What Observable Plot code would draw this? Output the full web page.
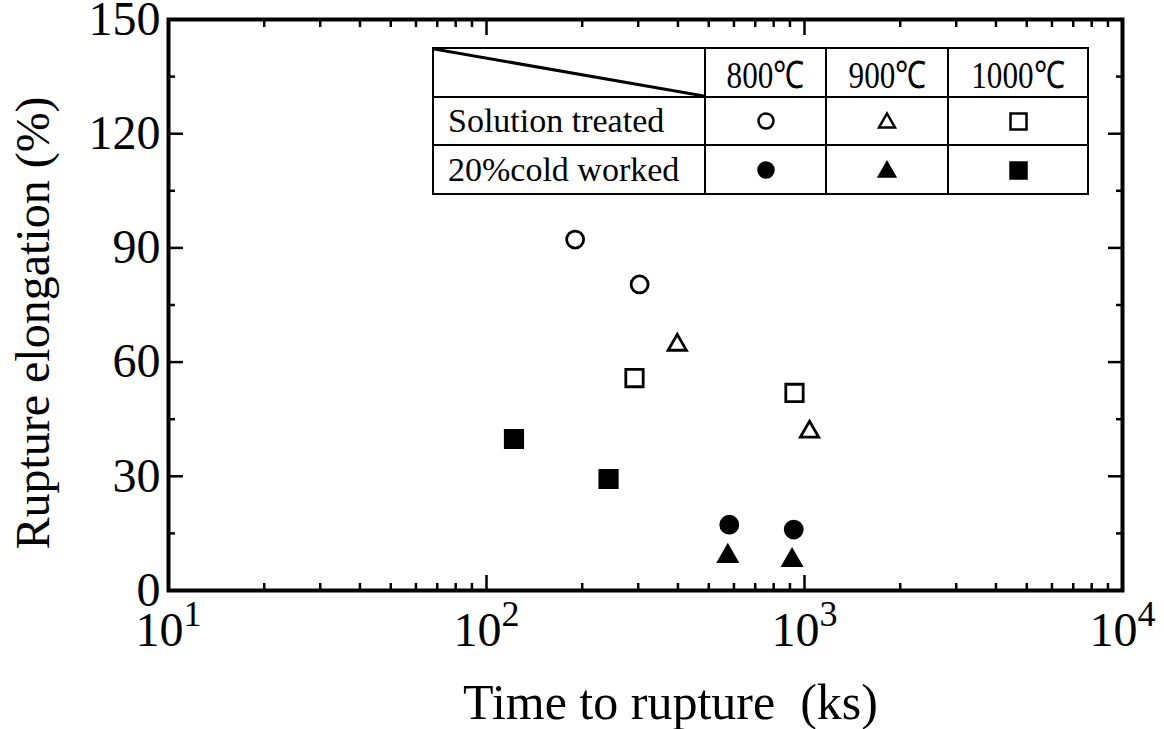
<!DOCTYPE html>
<html>
<head>
<meta charset="utf-8">
<script src="https://cdn.jsdelivr.net/npm/d3@7"></script>
<script src="https://cdn.jsdelivr.net/npm/@observablehq/plot@0.6"></script>
<style>
  body { margin: 0; background: #fff; }
  #wrap { position: relative; width: 1164px; height: 729px; font-family: "Liberation Serif", "Times New Roman", serif; color: #000; }
  #wrap svg text { white-space: pre; }
  #legend { position: absolute; left: 432px; top: 47px; border-collapse: collapse; background: #fff; table-layout: fixed; width: 657px; }
  #legend td { border: 2px solid #000; padding: 0; text-align: center; vertical-align: middle; line-height: 1; }
  #legend td.lab { text-align: left; padding-left: 14px; font-size: 34px; white-space: nowrap; }
  #legend td.hdr { font-size: 38px; white-space: nowrap; vertical-align: bottom; padding-bottom: 2px; }
  #legend td.hdr span { display: inline-block; transform: scaleX(0.82); }
  #legend td.diag { position: relative; }
  #legend td.diag svg { position: absolute; left: 0; top: 0; width: 100%; height: 100%; }
</style>
</head>
<body>
<div id="wrap"></div>
<script>
// ---------- data ----------
const temperatures = ["800℃", "900℃", "1000℃"];
const conditions = ["Solution treated", "20%cold worked"];

// Solution treated (open symbols)
const timeST800 = [190, 303];   const elongST800 = [92.2, 80.4];
const timeST900 = [398, 1037];  const elongST900 = [64.5, 41.7];
const timeST1000 = [292, 930];  const elongST1000 = [55.8, 51.9];
// 20% cold worked (filled symbols)
const timeCW800 = [580, 925];   const elongCW800 = [17.3, 16.0];
const timeCW900 = [574, 914];   const elongCW900 = [9.0, 7.9];
const timeCW1000 = [122, 242];  const elongCW1000 = [39.8, 29.3];

// axis ticks
const yTicks = [0, 30, 60, 90, 120, 150];
const yMinor = [15, 45, 75, 105, 135];
const xTicks = [10, 100, 1000, 10000];
const xMinor = [20, 30, 40, 50, 60, 70, 80, 90, 200, 300, 400, 500, 600, 700, 800, 900, 2000, 3000, 4000, 5000, 6000, 7000, 8000, 9000];

const rows = (t, e) => t.map((v, i) => ({t: v, e: e[i]}));

const symbolSpec = [
  {data: rows(timeST800, elongST800), symbol: "circle", r: 8.5, filled: false},
  {data: rows(timeST900, elongST900), symbol: "triangle", r: 6.8, filled: false},
  {data: rows(timeST1000, elongST1000), symbol: "square", r: 9.8, filled: false},
  {data: rows(timeCW800, elongCW800), symbol: "circle", r: 8.5, filled: true},
  {data: rows(timeCW900, elongCW900), symbol: "triangle", r: 6.8, filled: true},
  {data: rows(timeCW1000, elongCW1000), symbol: "square", r: 9.8, filled: true}
];

const dotMarks = symbolSpec.map(s => Plot.dot(s.data, {
  x: "t", y: "e", symbol: s.symbol, r: s.r,
  stroke: "black", strokeWidth: 2.8, fill: s.filled ? "black" : "none", strokeLinejoin: "miter"
}));

const tickOpts = {fill: "none", tickFormat: () => "", label: null, strokeWidth: 2.5};

const chart = Plot.plot({
  width: 1164,
  height: 729,
  marginLeft: 168,
  marginRight: 42,
  marginTop: 19,
  marginBottom: 139,
  style: {fontFamily: "'Liberation Serif', 'Times New Roman', serif", background: "white", color: "black"},
  x: {type: "log", domain: [10, 10000]},
  y: {domain: [0, 150]},
  marks: [
    // inward ticks on all four sides
    Plot.axisY(yTicks, {anchor: "left", tickSize: -15, ...tickOpts}),
    Plot.axisY(yMinor, {anchor: "left", tickSize: -7, ...tickOpts}),
    Plot.axisY(yTicks, {anchor: "right", tickSize: -15, ...tickOpts}),
    Plot.axisY(yMinor, {anchor: "right", tickSize: -7, ...tickOpts}),
    Plot.axisX(xTicks, {anchor: "bottom", tickSize: -15, ...tickOpts}),
    Plot.axisX(xMinor, {anchor: "bottom", tickSize: -7, ...tickOpts}),
    Plot.axisX(xTicks, {anchor: "top", tickSize: -15, ...tickOpts}),
    Plot.axisX(xMinor, {anchor: "top", tickSize: -7, ...tickOpts}),
    // tick labels
    Plot.axisY(yTicks, {anchor: "left", tickSize: 0, tickPadding: 8, fontSize: 48, label: null}),
    Plot.axisX(xTicks, {anchor: "bottom", tickSize: 0, tickPadding: 21, fontSize: 48, label: null,
      tickFormat: d => "10^" + Math.round(Math.log10(d))}),
    // titles
    Plot.text(["Rupture elongation (%)"], {frameAnchor: "left", textAnchor: "middle", lineAnchor: "middle", rotate: -90, dx: -135, dy: 18, fontSize: 48}),
    Plot.text(["Time to rupture  (ks)"], {frameAnchor: "bottom", textAnchor: "middle", lineAnchor: "middle", dx: 25, dy: 112, fontSize: 50}),
    Plot.frame({strokeWidth: 4}),
    ...dotMarks
  ]
});

// superscript exponents on the x tick labels
chart.querySelectorAll("text").forEach(t => {
  const m = /^10\^(\d+)$/.exec(t.textContent);
  if (!m) return;
  t.textContent = "10";
  const sup = document.createElementNS("http://www.w3.org/2000/svg", "tspan");
  sup.setAttribute("dy", "-20");
  sup.setAttribute("font-size", "36");
  sup.textContent = m[1];
  t.appendChild(sup);
});

const wrap = document.getElementById("wrap");
wrap.appendChild(chart);

// ---------- legend table ----------
const legendSymbols = [["circle", "triangle", "square"], ["circle", "triangle", "square"]];
const colWidths = [272, 121, 122, 140];
const rowHeights = [49, 48, 49];

function symbolSvg(kind, filled) {
  const f = filled ? "black" : "none";
  let shape;
  if (kind === "circle") shape = `<circle cx="12" cy="12" r="7.5" fill="${f}" stroke="black" stroke-width="2.5"/>`;
  else if (kind === "triangle") shape = `<path d="M12,4.5 L20,18.5 L4,18.5 Z" fill="${f}" stroke="black" stroke-width="2.5"/>`;
  else shape = `<rect x="4.5" y="4.5" width="16" height="16" fill="${f}" stroke="black" stroke-width="2.5"/>`;
  return `<svg width="24" height="24" viewBox="0 0 24 24" style="display:block;margin:auto">${shape}</svg>`;
}

const table = document.createElement("table");
table.id = "legend";
let html = `<colgroup>${colWidths.map(w => `<col style="width:${w}px">`).join("")}</colgroup>`;
html += `<tr style="height:${rowHeights[0]}px"><td class="diag"><svg preserveAspectRatio="none" viewBox="0 0 100 100"><line x1="0" y1="0" x2="100" y2="100" stroke="black" stroke-width="3" vector-effect="non-scaling-stroke"/></svg></td>`;
temperatures.forEach(t => { html += `<td class="hdr"><span>${t}</span></td>`; });
html += `</tr>`;
conditions.forEach((c, r) => {
  html += `<tr style="height:${rowHeights[r + 1]}px"><td class="lab">${c}</td>`;
  legendSymbols[r].forEach(k => { html += `<td>${symbolSvg(k, r === 1)}</td>`; });
  html += `</tr>`;
});
table.innerHTML = html;
wrap.appendChild(table);
</script>
</body>
</html>
